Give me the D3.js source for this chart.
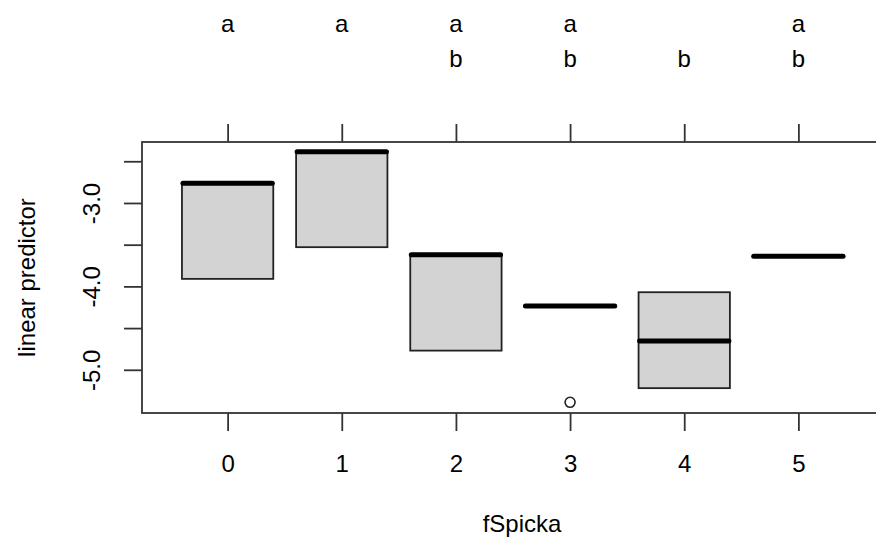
<!DOCTYPE html>
<html>
<head>
<meta charset="utf-8">
<script src="https://cdn.jsdelivr.net/npm/d3@7"></script>
<style>
  body { margin: 0; background: #fff; }
  text { font-family: "Liberation Sans", Arial, sans-serif; fill: #000; }
</style>
</head>
<body>
<div id="chart"></div>
<script>
// boxplot of linear predictor by fSpicka, letters = group labels
var categories = ["0", "1", "2", "3", "4", "5"];
var lower  = [-3.91, -3.53, -4.77, -4.235, -5.22, -3.64];
var median = [-2.764, -2.385, -3.62, -4.235, -4.655, -3.64];
var upper  = [-2.764, -2.385, -3.62, -4.235, -4.07, -3.64];
var outliers = [{cat: 3, value: -5.39}];
var groupLetters = [["a"], ["a"], ["a", "b"], ["a", "b"], ["", "b"], ["a", "b"]];
var yTicks = [-2.5, -3.0, -3.5, -4.0, -4.5, -5.0];
var yTickLabels = {"-3": "-3.0", "-4": "-4.0", "-5": "-5.0"};

makeBoxplot();

function makeBoxplot() {
    var w = 876, h = 544;
    var mLeft = 142, mTop = 142, mBottom = 413, mRight = 884;

    var svg = d3.select("#chart").append("svg")
        .attr("width", w)
        .attr("height", h);

    var x = d3.scaleLinear()
        .domain([-0.75, 5.75])
        .range([mLeft, mRight]);

    var y = d3.scaleLinear()
        .domain([-5.518, -2.269])
        .range([mBottom, mTop]);

    var boxW = x(0.8) - x(0);
    var axisColor = "#333";
    var fontSize = "24px";
    var lw = 1.8;

    // boxes
    var boxes = svg.append("g");
    categories.forEach(function(c, i) {
        var cx = x(i);
        if (upper[i] > lower[i]) {
            boxes.append("rect")
                .attr("x", cx - boxW / 2)
                .attr("y", y(upper[i]))
                .attr("width", boxW)
                .attr("height", y(lower[i]) - y(upper[i]))
                .style("fill", "#d3d3d3")
                .style("stroke", "#222")
                .style("stroke-width", lw);
        }
        boxes.append("line")
            .attr("x1", cx - boxW / 2 + 1)
            .attr("x2", cx + boxW / 2 - 1)
            .attr("y1", y(median[i]))
            .attr("y2", y(median[i]))
            .style("stroke", "#000")
            .style("stroke-width", 5)
            .style("stroke-linecap", "round");
    });

    svg.selectAll(".outlier")
        .data(outliers)
        .enter()
        .append("circle")
        .attr("class", "outlier")
        .attr("cx", function(d) { return x(d.cat); })
        .attr("cy", function(d) { return y(d.value); })
        .attr("r", 5)
        .style("fill", "none")
        .style("stroke", "#222")
        .style("stroke-width", 1.6);

    // frame
    svg.append("rect")
        .attr("x", mLeft)
        .attr("y", mTop)
        .attr("width", mRight - mLeft)
        .attr("height", mBottom - mTop)
        .style("fill", "none")
        .style("stroke", axisColor)
        .style("stroke-width", lw);

    // bottom axis
    var xAxisBot = d3.axisBottom(x)
        .tickValues(d3.range(categories.length))
        .tickFormat(function(d) { return categories[d]; })
        .tickSize(18);
    var gb = svg.append("g")
        .attr("transform", "translate(0," + mBottom + ")")
        .call(xAxisBot);
    gb.select(".domain").remove();
    gb.selectAll("line").style("stroke", axisColor).style("stroke-width", lw);
    gb.selectAll("text")
        .attr("y", 59)
        .attr("dy", null)
        .style("font-size", fontSize)
        .style("font-family", "Liberation Sans, Arial, sans-serif")
        .style("fill", "#000");

    // top axis, ticks only
    var xAxisTop = d3.axisTop(x)
        .tickValues(d3.range(categories.length))
        .tickFormat("")
        .tickSize(18);
    var gt = svg.append("g")
        .attr("transform", "translate(0," + mTop + ")")
        .call(xAxisTop);
    gt.select(".domain").remove();
    gt.selectAll("line").style("stroke", axisColor).style("stroke-width", lw);

    // left axis
    var yAxis = d3.axisLeft(y)
        .tickValues(yTicks)
        .tickFormat(function(d) { return yTickLabels[String(d)] || ""; })
        .tickSize(18);
    var gl = svg.append("g")
        .attr("transform", "translate(" + mLeft + ",0)")
        .call(yAxis);
    gl.select(".domain").remove();
    gl.selectAll("line").style("stroke", axisColor).style("stroke-width", lw);
    gl.selectAll(".tick text")
        .attr("x", null)
        .attr("dy", null)
        .attr("transform", "translate(-42,0) rotate(-90)")
        .attr("text-anchor", "middle")
        .style("font-size", fontSize)
        .style("font-family", "Liberation Sans, Arial, sans-serif")
        .style("fill", "#000");

    // letters above
    categories.forEach(function(c, i) {
        groupLetters[i].forEach(function(l, j) {
            svg.append("text")
                .attr("x", x(i))
                .attr("y", 32 + j * 35)
                .attr("text-anchor", "middle")
                .style("font-size", fontSize)
                .text(l);
        });
    });

    // axis titles
    svg.append("text")
        .attr("x", 522)
        .attr("y", 532)
        .attr("text-anchor", "middle")
        .style("font-size", fontSize)
        .text("fSpicka");

    svg.append("text")
        .attr("transform", "translate(35," + ((mTop + mBottom) / 2) + ") rotate(-90)")
        .attr("text-anchor", "middle")
        .style("font-size", fontSize)
        .text("linear predictor");
}
</script>
</body>
</html>
